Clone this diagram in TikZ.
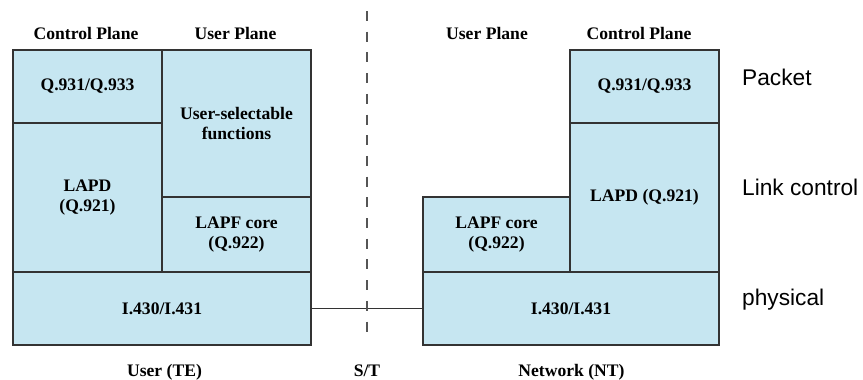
\documentclass[tikz,border=0pt]{standalone}
\usepackage{fontspec}
\setmainfont{Liberation Serif}
\newfontfamily\arialfont{Liberation Sans}
\definecolor{boxfill}{HTML}{C6E6F1}
\definecolor{boxline}{HTML}{333333}
\definecolor{dashline}{HTML}{555555}
\begin{document}
\begin{tikzpicture}[x=1pt,y=-1pt,
  layerbox/.style={draw=boxline, fill=boxfill, line width=1.4pt, inner sep=0pt,
    align=center, font=\fontsize{17.6}{20}\selectfont\bfseries},
  heading/.style={anchor=base, inner sep=0pt, font=\fontsize{17.6}{20}\selectfont\bfseries},
  sidelabel/.style={anchor=base west, inner sep=0pt, font=\fontsize{22.7}{26}\selectfont\arialfont}]
\useasboundingbox (0,0) rectangle (863,380);
% left stack
\node[layerbox, minimum width=149pt, minimum height=73pt] (lq) at (87.5,86.5) {Q.931/Q.933};
\node[layerbox, minimum width=149pt, minimum height=147pt] (lus) at (236.5,123.5) {User-selectable\\functions};
\node[layerbox, minimum width=149pt, minimum height=149pt] (llapd) at (87.5,197.5) {LAPD\\(Q.921)};
\node[layerbox, minimum width=149pt, minimum height=75pt] (llapf) at (236.5,234.5) {LAPF core\\(Q.922)};
\node[layerbox, minimum width=298pt, minimum height=73pt] (li) at (162,308.5) {I.430/I.431};
% right stack
\node[layerbox, minimum width=147pt, minimum height=75pt] (rlapf) at (496.5,234.5) {LAPF core\\(Q.922)};
\node[layerbox, minimum width=149pt, minimum height=73pt] (rq) at (644.5,86.5) {Q.931/Q.933};
\node[layerbox, minimum width=149pt, minimum height=149pt] (rlapd) at (644.5,197.5) {LAPD (Q.921)};
\node[layerbox, minimum width=296pt, minimum height=73pt] (ri) at (571,308.5) {I.430/I.431};
% connector
\draw[boxline, line width=1.4pt] (li.east) -- (ri.west);
% S/T dashed line
\coordinate (sttop) at (367,11);
\coordinate (stbot) at (367,342);
\draw[dashline, line width=2pt, dash pattern=on 10pt off 10.7pt] (sttop) -- (stbot);
% headings
\node[heading] (hlcp) at (86,39) {Control Plane};
\node[heading] (hlup) at (235.5,39) {User Plane};
\node[heading] (hrup) at (487,39) {User Plane};
\node[heading] (hrcp) at (639,39) {Control Plane};
% bottom labels
\node[heading] (bte) at (164.5,376) {User (TE)};
\node[heading] (bst) at (367,376) {S/T};
\node[heading] (bnt) at (571.5,376) {Network (NT)};
% side labels
\node[sidelabel] (spk) at (742,85) {Packet};
\node[sidelabel] (slc) at (742,195) {Link control};
\node[sidelabel] (sph) at (742,305) {physical};
\end{tikzpicture}
\end{document}
